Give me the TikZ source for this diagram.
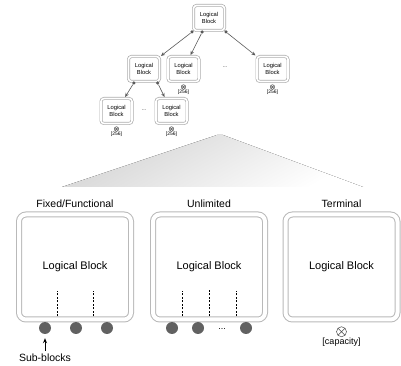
\documentclass[tikz,border=0pt]{standalone}
\usepackage{fontspec}
\setmainfont{Liberation Sans}
\usetikzlibrary{positioning, arrows.meta, calc}

\tikzstyle{bigblock} = [rectangle, rounded corners=7pt, draw=gray!55, line width=1pt, double=white, double distance=4pt, minimum width=112pt, minimum height=105pt, outer sep=3pt, font=\fontsize{11}{13}\selectfont]
\tikzstyle{treeblock} = [rectangle, rounded corners=3pt, draw=gray!65, line width=0.7pt, double=white, double distance=1.6pt, minimum width=31pt, minimum height=25pt, inner sep=1pt, outer sep=1.5pt, align=center, font=\fontsize{5.8}{6.8}\selectfont]
\tikzstyle{kind} = [font=\fontsize{10.5}{12}\selectfont]
\tikzstyle{subblock} = [circle, fill=black!62, minimum size=12pt, inner sep=0pt]
\tikzstyle{capacity} = [circle, draw=black!70, line width=0.5pt, minimum size=10pt, inner sep=0pt, path picture={\draw[black!70, line width=0.5pt] (path picture bounding box.north west) -- (path picture bounding box.south east) (path picture bounding box.north east) -- (path picture bounding box.south west);}]
\tikzstyle{smallcap} = [capacity, minimum size=4.5pt, line width=0.4pt]
\tikzstyle{note} = [inner sep=0.5pt, font=\fontsize{5}{6}\selectfont]
\tikzstyle{joint} = [circle, fill=black!65, minimum size=3.5pt, inner sep=0pt]
\tikzstyle{arrow} = [black!65, line width=0.6pt, -{Stealth[length=4pt, width=3.5pt]}]
\tikzstyle{pointer} = [black, line width=0.8pt, -{Stealth[length=5pt, width=4pt]}, shorten >=4pt]
\tikzstyle{divider} = [dash pattern=on 2pt off 1.5pt, line width=0.6pt]

\begin{document}
\begin{tikzpicture}[x=1pt, y=1pt]
\useasboundingbox (0,0) rectangle (401,366);

% zoom wedge from the tree down to the three kinds
\fill [top color=black!17, bottom color=white, shading angle=30] (62,179) -- (217,231) -- (223,231) -- (363,179) -- cycle;

% tree of blocks
\node (root) [treeblock] at (209,348) {Logical\\Block};
\node (blkA) [treeblock] at (144,297) {Logical\\Block};
\node (blkB) [treeblock] at (183.5,297) {Logical\\Block};
\node (blkC) [treeblock] at (272.5,297) {Logical\\Block};
\node (blkAA) [treeblock] at (116.5,255) {Logical\\Block};
\node (blkAB) [treeblock] at (171.5,255) {Logical\\Block};

\node (gapB) [note] at (225,299) {...};
\node (gapA) [note] at (144,256) {...};

\node (capB) [smallcap, below=1.5pt of blkB] {};
\node (numB) [note, below=0pt of capB] {[256]};
\node (capC) [smallcap, below=1.5pt of blkC] {};
\node (numC) [note, below=0pt of capC] {[256]};
\node (capAA) [smallcap, below=1.5pt of blkAA] {};
\node (numAA) [note, below=0pt of capAA] {[256]};
\node (capAB) [smallcap, below=1.5pt of blkAB] {};
\node (numAB) [note, below=0pt of capAB] {[256]};

\node (rootL) [joint] at (root.south west) {};
\node (rootM) [joint] at ($(root.south west)!0.3!(root.south east)$) {};
\node (rootR) [joint] at (root.south east) {};
\node (blkAL) [joint] at ($(blkA.south west)!0.2!(blkA.south east)$) {};
\node (blkAR) [joint] at ($(blkA.south west)!0.9!(blkA.south east)$) {};

\draw [arrow] (rootL) -- (blkA);
\draw [arrow] (rootM) -- (blkB);
\draw [arrow] (rootR) -- (blkC);
\draw [arrow] (blkAL) -- (blkAA);
\draw [arrow] (blkAR) -- (blkAB);

% the three kinds of block
\node (fixed) [bigblock] at (75,99) {Logical Block};
\node (unlim) [bigblock] at (209,99) {Logical Block};
\node (term) [bigblock] at (341.5,99) {Logical Block};

\node (fixedname) [kind, above=0pt of fixed] {Fixed/Functional};
\node (unlimname) [kind, above=0pt of unlim] {Unlimited};
\node (termname) [kind, above=0pt of term] {Terminal};

\draw [divider] ($(fixed.south)+(-18,6)$) -- ++(0,25);
\draw [divider] ($(fixed.south)+(18,6)$) -- ++(0,25);
\draw [divider] ($(unlim.south)+(-27,6)$) -- ++(0,25);
\draw [divider] ($(unlim.south)+(0,6)$) -- ++(0,27);
\draw [divider] ($(unlim.south)+(27,6)$) -- ++(0,25);

\node (fixsub1) [subblock] at (45,38) {};
\node (fixsub2) [subblock] at (76,38) {};
\node (fixsub3) [subblock] at (107,38) {};

\node (unlsub1) [subblock] at (172,38) {};
\node (unlsub2) [subblock] at (198,38) {};
\node (unlgap) [anchor=base, font=\fontsize{9}{10}\selectfont] at (222,36) {...};
\node (unlsub3) [subblock] at (246,38) {};

\node (termcap) [capacity, below=4pt of term] {};
\node (termsize) [below=0pt of termcap, inner sep=1pt, font=\fontsize{9}{10}\selectfont] {[capacity]};

\node (subname) [kind] at (45,8) {Sub-blocks};
\draw [pointer] (subname) -- (fixsub1);
\end{tikzpicture}
\end{document}
